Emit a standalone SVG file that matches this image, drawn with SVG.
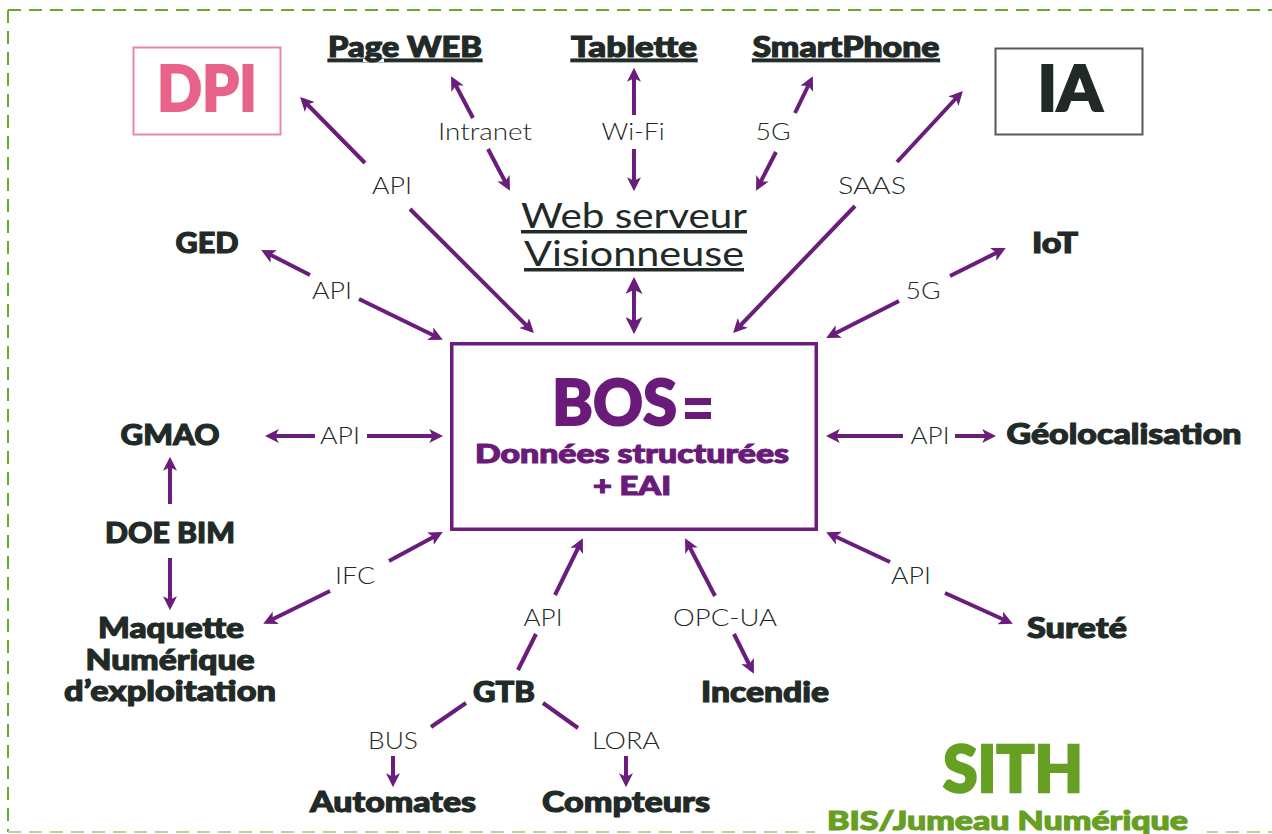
<svg xmlns="http://www.w3.org/2000/svg" width="1272" height="834" viewBox="0 0 1272 834">
<style>
.b{font-family:Lato,"Open Sans","Liberation Sans",sans-serif;font-weight:900;fill:#222a27;stroke:#222a27;stroke-width:1.1;font-size:28px;text-anchor:middle}
.l{font-family:Lato,"Open Sans","Liberation Sans",sans-serif;font-weight:300;fill:#222a27;font-size:24px;text-anchor:middle}
.u{text-decoration:underline}
.c{fill:none;stroke:#6a1d7b;stroke-width:4}
.p{fill:#6a1b7a}
</style>
<defs>
<marker id="ah" viewBox="0 0 10 10" refX="7" refY="5" markerWidth="14" markerHeight="14" markerUnits="userSpaceOnUse" orient="auto-start-reverse">
<path d="M0,0 L10,5 L0,10 L2.5,5 z" fill="#6a1d7b"/>
</marker>
<marker id="ah2" viewBox="0 0 10 10" refX="7" refY="5" markerWidth="17" markerHeight="17" markerUnits="userSpaceOnUse" orient="auto-start-reverse">
<path d="M0,0 L10,5 L0,10 L2.5,5 z" fill="#6a1d7b"/>
</marker>
</defs>
<rect width="1272" height="834" fill="#ffffff"/>
<g id="border" fill="none" stroke-width="2" stroke-dasharray="13 8">
<line x1="8" y1="10" x2="1272" y2="10" stroke="#6aaa2a"/>
<line x1="8" y1="10" x2="8" y2="832" stroke="#6aaa2a"/>
<line x1="8" y1="832" x2="1272" y2="832" stroke="#b8d49c"/>
</g>
<g id="connectors">
<path class="c" d="M365,163 L303,100" marker-end="url(#ah)"/>
<path class="c" d="M410,209 L531,330" marker-end="url(#ah)"/>
<path class="c" d="M473,118 L453,80" marker-end="url(#ah)"/>
<path class="c" d="M488,149 L508,187" marker-end="url(#ah)"/>
<path class="c" d="M634,115 L634,72" marker-end="url(#ah)"/>
<path class="c" d="M634,149 L634,187" marker-end="url(#ah)"/>
<path class="c" d="M795,113 L811,80" marker-end="url(#ah)"/>
<path class="c" d="M776,152 L758,187" marker-end="url(#ah)"/>
<path class="c" d="M897,162 L960,94" marker-end="url(#ah)"/>
<path class="c" d="M855,206 L736,330" marker-end="url(#ah)"/>
<path class="c" d="M634,282 L634,329" stroke-width="5" marker-start="url(#ah2)" marker-end="url(#ah2)"/>
<path class="c" d="M310,275 L265,252" marker-end="url(#ah)"/>
<path class="c" d="M359,299 L439,338" marker-end="url(#ah)"/>
<path class="c" d="M950,276 L1002,250" marker-end="url(#ah)"/>
<path class="c" d="M899,301 L830,336" marker-end="url(#ah)"/>
<path class="c" d="M315,436 L269,436" marker-end="url(#ah)"/>
<path class="c" d="M367,436 L439,436" marker-end="url(#ah)"/>
<path class="c" d="M903,436 L830,436" marker-end="url(#ah)"/>
<path class="c" d="M955,436 L992,436" marker-end="url(#ah)"/>
<path class="c" d="M170,504 L170,461" marker-end="url(#ah)"/>
<path class="c" d="M170,558 L170,606" marker-end="url(#ah)"/>
<path class="c" d="M389,561 L439,534" marker-end="url(#ah)"/>
<path class="c" d="M330,591 L267,622" marker-end="url(#ah)"/>
<path class="c" d="M555,595 L581,542" marker-end="url(#ah)"/>
<path class="c" d="M536,634 L518,670"/>
<path class="c" d="M715,596 L687,542" marker-end="url(#ah)"/>
<path class="c" d="M734,634 L752,670" marker-end="url(#ah)"/>
<path class="c" d="M890,562 L830,534" marker-end="url(#ah)"/>
<path class="c" d="M945,593 L1009,622" marker-end="url(#ah)"/>
<path class="c" d="M466,703 L431,727"/>
<path class="c" d="M393,756 L393,783" marker-end="url(#ah)"/>
<path class="c" d="M543,703 L578,728"/>
<path class="c" d="M626,756 L626,783" marker-end="url(#ah)"/>
<text class="l" x="392" y="194" textLength="40" lengthAdjust="spacingAndGlyphs">API</text>
<text class="l" x="485" y="140" textLength="94" lengthAdjust="spacingAndGlyphs">Intranet</text>
<text class="l" x="633" y="140" textLength="63" lengthAdjust="spacingAndGlyphs">Wi-Fi</text>
<text class="l" x="773" y="140" textLength="35" lengthAdjust="spacingAndGlyphs">5G</text>
<text class="l" x="872" y="194" textLength="68" lengthAdjust="spacingAndGlyphs">SAAS</text>
<text class="l" x="332" y="299" textLength="40" lengthAdjust="spacingAndGlyphs">API</text>
<text class="l" x="923" y="299" textLength="35" lengthAdjust="spacingAndGlyphs">5G</text>
<text class="l" x="340" y="444" textLength="40" lengthAdjust="spacingAndGlyphs">API</text>
<text class="l" x="930" y="444" textLength="39" lengthAdjust="spacingAndGlyphs">API</text>
<text class="l" x="355" y="584" textLength="40" lengthAdjust="spacingAndGlyphs">IFC</text>
<text class="l" x="911" y="584" textLength="40" lengthAdjust="spacingAndGlyphs">API</text>
<text class="l" x="543" y="626" textLength="39" lengthAdjust="spacingAndGlyphs">API</text>
<text class="l" x="725" y="626" textLength="104" lengthAdjust="spacingAndGlyphs">OPC-UA</text>
<text class="l" x="393" y="749" textLength="50" lengthAdjust="spacingAndGlyphs">BUS</text>
<text class="l" x="626" y="749" textLength="68" lengthAdjust="spacingAndGlyphs">LORA</text>
</g>
<g id="dpi">
<rect x="133.5" y="47.5" width="147" height="87" fill="none" stroke="#ec86a4" stroke-width="2"/>
<text class="b" x="207" y="111" style="font-size:62px;fill:#e86389;stroke:#e86389;stroke-width:2" textLength="100" lengthAdjust="spacingAndGlyphs">DPI</text>
</g>
<g id="ia">
<rect x="995.5" y="48.5" width="147" height="86" fill="none" stroke="#555a58" stroke-width="2"/>
<text class="b" x="1070" y="111" style="font-size:62px;stroke-width:2" textLength="65" lengthAdjust="spacingAndGlyphs">IA</text>
</g>
<g id="pageweb"><text class="b u" x="405" y="57" textLength="154" lengthAdjust="spacingAndGlyphs">Page WEB</text></g>
<g id="tablette"><text class="b u" x="634" y="57" textLength="126" lengthAdjust="spacingAndGlyphs">Tablette</text></g>
<g id="smartphone"><text class="b u" x="846" y="57" textLength="187" lengthAdjust="spacingAndGlyphs">SmartPhone</text></g>
<g id="webserveur">
<text class="l u" x="634" y="228" style="font-size:35px;font-weight:400" textLength="226" lengthAdjust="spacingAndGlyphs">Web serveur</text>
<text class="l u" x="634" y="266" style="font-size:35px;font-weight:400" textLength="220" lengthAdjust="spacingAndGlyphs">Visionneuse</text>
</g>
<g id="ged"><text class="b" x="207" y="253" textLength="63" lengthAdjust="spacingAndGlyphs">GED</text></g>
<g id="iot"><text class="b" x="1055" y="253" textLength="46" lengthAdjust="spacingAndGlyphs">IoT</text></g>
<g id="gmao"><text class="b" x="170" y="445" textLength="99" lengthAdjust="spacingAndGlyphs">GMAO</text></g>
<g id="geolocalisation"><text class="b" x="1124" y="444" textLength="235" lengthAdjust="spacingAndGlyphs">Géolocalisation</text></g>
<g id="doebim"><text class="b" x="170" y="543" textLength="130" lengthAdjust="spacingAndGlyphs">DOE BIM</text></g>
<g id="maquette">
<text class="b" x="171" y="638" textLength="146" lengthAdjust="spacingAndGlyphs">Maquette</text>
<text class="b" x="170" y="670" textLength="169" lengthAdjust="spacingAndGlyphs">Numérique</text>
<text class="b" x="170" y="701" textLength="212" lengthAdjust="spacingAndGlyphs">d’exploitation</text>
</g>
<g id="gtb"><text class="b" x="504" y="702" textLength="62" lengthAdjust="spacingAndGlyphs">GTB</text></g>
<g id="incendie"><text class="b" x="765" y="702" textLength="128" lengthAdjust="spacingAndGlyphs">Incendie</text></g>
<g id="surete"><text class="b" x="1077" y="638" textLength="100" lengthAdjust="spacingAndGlyphs">Sureté</text></g>
<g id="automates"><text class="b" x="393" y="812" textLength="166" lengthAdjust="spacingAndGlyphs">Automates</text></g>
<g id="compteurs"><text class="b" x="626" y="812" textLength="168" lengthAdjust="spacingAndGlyphs">Compteurs</text></g>
<g id="bos">
<rect x="451.75" y="343.75" width="364.5" height="185.5" fill="#ffffff" stroke="#6a1d7b" stroke-width="3.5"/>
<text class="b" x="614.5" y="425" style="font-size:62px;fill:#6a1b7a;stroke:#6a1b7a;stroke-width:2" textLength="125" lengthAdjust="spacingAndGlyphs">BOS</text>
<rect x="685" y="398" width="26" height="7" class="p"/>
<rect x="685" y="412" width="26" height="7" class="p"/>
<text class="b" x="632" y="463" style="font-size:26px;fill:#6a1b7a;stroke:#6a1b7a" textLength="314" lengthAdjust="spacingAndGlyphs">Données structurées</text>
<text class="b" x="632" y="495" style="font-size:26px;fill:#6a1b7a;stroke:#6a1b7a" textLength="78" lengthAdjust="spacingAndGlyphs">+ EAI</text>
</g>
<g id="sith">
<rect x="815" y="806" width="392" height="28" fill="#ffffff"/>
<text class="b" x="1013" y="792" style="font-size:64px;fill:#66a022;stroke:#66a022;stroke-width:2.5" textLength="140" lengthAdjust="spacingAndGlyphs">SITH</text>
<text class="b" x="1007.5" y="830" style="font-size:26px;fill:#66a022;stroke:#66a022" textLength="361" lengthAdjust="spacingAndGlyphs">BIS/Jumeau Numérique</text>
</g>
</svg>
